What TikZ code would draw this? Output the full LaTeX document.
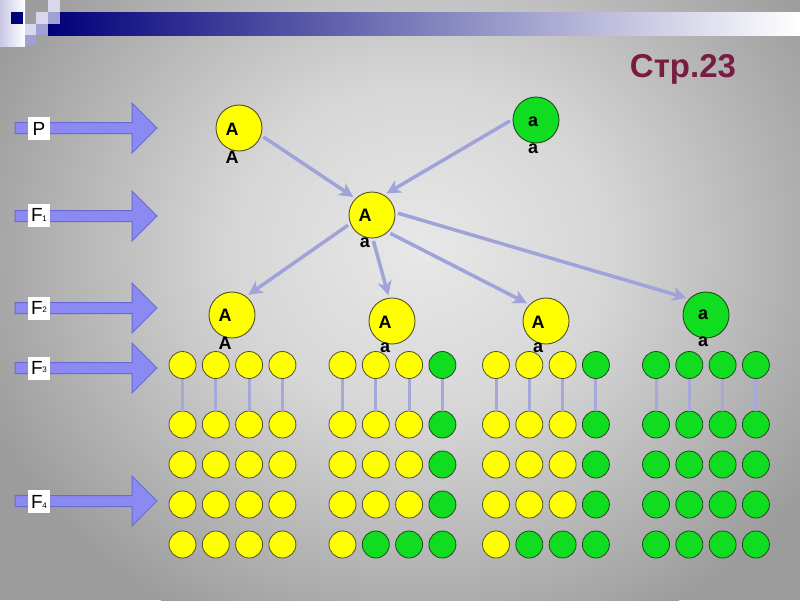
\documentclass[tikz,border=0pt]{standalone}
\usepackage{fontspec}
\setmainfont{Liberation Sans}
\usetikzlibrary{arrows.meta}
\definecolor{bgin}{HTML}{E8E8E8}
\definecolor{bgmid}{HTML}{D6D6D6}
\definecolor{bgedge}{HTML}{A6A6A6}
\definecolor{bgout}{HTML}{9C9C9C}
\definecolor{barnavy}{HTML}{00007A}
\definecolor{cyel}{HTML}{FFFF00}
\definecolor{yeledge}{HTML}{4F4F28}
\definecolor{cgrn}{HTML}{10DC20}
\definecolor{grnedge}{HTML}{1E4A1E}
\definecolor{linkcol}{HTML}{A0A2DA}
\definecolor{rungcol}{HTML}{A6A8DA}
\definecolor{arrowfill}{HTML}{8A8AF2}
\definecolor{arrowedge}{HTML}{6A6AD2}
\definecolor{titlecol}{HTML}{7A1B42}
\definecolor{sqa}{HTML}{D8D8EA}
\definecolor{sqb}{HTML}{A0A0D4}
\definecolor{sqc}{HTML}{C8C8E6}
\pgfdeclareradialshading{bgshade}{\pgfpoint{0bp}{0bp}}{color(0bp)=(bgin); color(10bp)=(bgmid); color(22.5bp)=(bgedge); color(25bp)=(bgout); color(50bp)=(bgout)}
\newcommand{\fsub}[2]{F\kern-0.5pt\raisebox{#1}{\fontsize{8}{8}\selectfont #2}}
\newcommand{\blockarrow}[1]{\filldraw[barrow] (15,#1-5.5) -- (132,#1-5.5) -- (132,#1-25) -- (157,#1) -- (132,#1+25) -- (132,#1+5.5) -- (15,#1+5.5) -- cycle;}
\begin{document}
\begin{tikzpicture}[x=1pt,y=-1pt,
  big/.style={circle, draw=yeledge, line width=0.9pt, minimum size=46pt, inner sep=0pt, outer sep=3pt},
  ysmall/.style={circle, fill=cyel, draw=yeledge, line width=0.8pt, minimum size=27pt, inner sep=0pt},
  gsmall/.style={circle, fill=cgrn, draw=grnedge, line width=0.8pt, minimum size=27pt, inner sep=0pt},
  letter/.style={font=\bfseries\fontsize{18}{18}\selectfont, inner sep=0pt},
  link/.style={draw=linkcol, line width=3.5pt, -{Stealth[length=14pt,width=14pt,inset=4pt]}},
  rung/.style={draw=rungcol, line width=3pt},
  lbl/.style={fill=white, minimum width=22pt, minimum height=23pt, inner sep=0pt, font=\fontsize{19}{19}\selectfont},
  barrow/.style={fill=arrowfill, draw=arrowedge, line width=1pt}]
\useasboundingbox (0,0) rectangle (800,600);
% background
\begin{scope}
\clip (0,0) rectangle (800,600);
\fill[bgout] (0,0) rectangle (800,600);
\shade[shading=bgshade] (420,250) ellipse [x radius=470pt, y radius=420pt];
\end{scope}
% top bar and squares
\shade[left color=barnavy, right color=white] (48,12) rectangle (800,35);
\shade[left color=sqc, right color=white] (0,0) rectangle (25,46);
\fill[barnavy] (11,12) rectangle (23,24);
\fill[sqa] (48,0) rectangle (60,12);
\fill[sqa] (36,12) rectangle (48,24);
\fill[sqb] (48,12) rectangle (60,24);
\fill[sqa] (25,24) rectangle (36,35);
\fill[sqb] (36,24) rectangle (48,35);
\fill[sqb] (25,35) rectangle (36,46);
% title
\node[text=titlecol, font=\bfseries\fontsize{33}{33}\selectfont, anchor=base, inner sep=0pt] (title) at (683,77) {Стр.23};
% block arrows
\blockarrow{128}
\blockarrow{216}
\blockarrow{308}
\blockarrow{368}
\blockarrow{501}
\node[lbl] (lp) at (39,128.5) {P};
\node[lbl] (lf1) at (39,215) {\fsub{0pt}{1}};
\node[lbl] (lf2) at (39,308) {\fsub{2pt}{2}};
\node[lbl] (lf3) at (39,368) {\fsub{2pt}{3}};
\node[lbl] (lf4) at (39,501.5) {\fsub{0pt}{4}};
% small circles
\foreach \g/\bx in {1/182.5,2/342.5,3/496,4/656} {
  \foreach \r/\yy in {1/365,2/424.5,3/464.5,4/504.5,5/544.5} {
    \foreach \c in {1,2,3,4} {
      \pgfmathtruncatemacro{\isg}{(\g==4) || (((\g==2) || (\g==3)) && ((\c==4) || ((\r==5) && (\c>1))))}
      \ifnum\isg=1 \def\st{gsmall}\else\def\st{ysmall}\fi
      \node[\st] (g\g r\r c\c) at ({\bx+(\c-1)*33.3},\yy) {};
    }
  }
}
\foreach \g in {1,2,3,4} {
  \foreach \c in {1,2,3,4} {
    \draw[rung] (g\g r1c\c) -- (g\g r2c\c);
  }
}
% big circles
\node[big, fill=cyel] (p1) at (239,128) {};
\node[big, fill=cgrn, draw=grnedge] (p2) at (536,120) {};
\node[big, fill=cyel] (f1) at (372,215) {};
\node[big, fill=cyel] (c1) at (232,315) {};
\node[big, fill=cyel] (c2) at (392,321) {};
\node[big, fill=cyel] (c3) at (546,321) {};
\node[big, fill=cgrn, draw=grnedge] (c4) at (706,315) {};
% connectors
\draw[link] (p1.-20) -- (f1.136);
\draw[link] (p2.182) -- (f1.56);
\draw[link] (f1.203) -- (c1.51);
\draw[link] (f1.-87) -- (c2.98);
\draw[link] (f1.-45) -- (c3.137);
\draw[link] (f1.4) -- (c4.139);
% letters
\node[letter] (p1a) at (232,129) {A};
\node[letter] (p1b) at (232,157) {A};
\node[letter] (p2a) at (533,122) {a};
\node[letter] (p2b) at (533,149) {a};
\node[letter] (f1a) at (365,215) {A};
\node[letter] (f1b) at (365,243) {a};
\node[letter] (c1a) at (225,315) {A};
\node[letter] (c1b) at (225,343) {A};
\node[letter] (c2a) at (385,322) {A};
\node[letter] (c2b) at (385,348) {a};
\node[letter] (c3a) at (538,322) {A};
\node[letter] (c3b) at (538,348) {a};
\node[letter] (c4a) at (703,315) {a};
\node[letter] (c4b) at (703,342) {a};
\end{tikzpicture}
\end{document}
